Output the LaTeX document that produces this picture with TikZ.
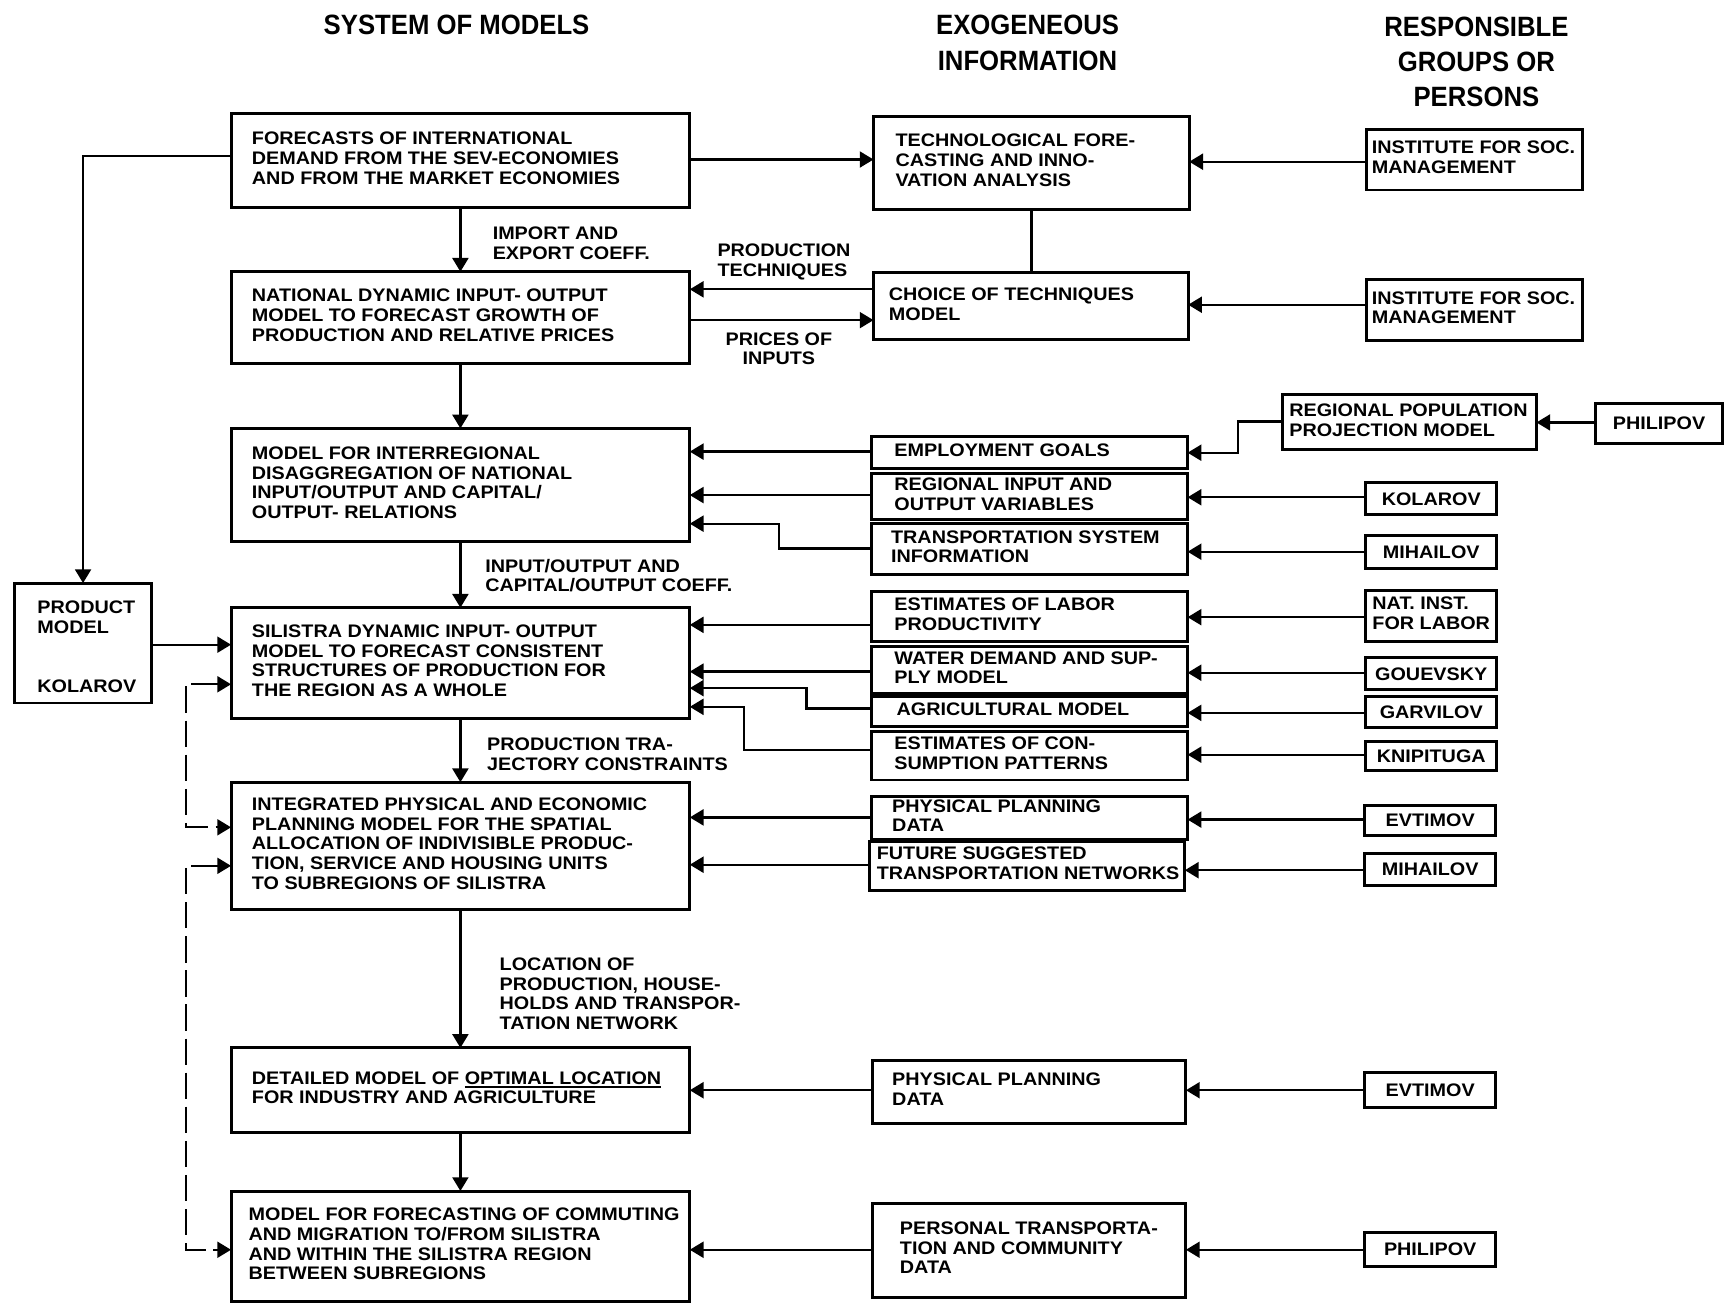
\documentclass[tikz,border=0pt]{standalone}
\usepackage{fontspec}
\usetikzlibrary{arrows.meta}
\newfontfamily\boxfont[FakeStretch=1.09]{Liberation Sans}
\newfontfamily\headfont[FakeStretch=0.92]{Liberation Sans}
% left-aligned block of lines, set in a box of fixed width
\newcommand\boxlines[2]{\makebox[#1pt][l]{\begin{tabular}{@{}l@{}}#2\end{tabular}}}
% blocks whose reference point is the first baseline
\newcommand\toplines[1]{\begin{tabular}[t]{@{}l@{}}#1\end{tabular}}
\newcommand\topcenter[1]{\begin{tabular}[t]{@{}c@{}}#1\end{tabular}}
% heavy underline
\newcommand\undl[1]{\setbox0\hbox{#1}\rlap{\rule[-3.2pt]{\wd0}{1.6pt}}\box0}
\begin{document}
\begin{tikzpicture}[x=1pt,y=-1pt,
  txt/.style={font=\boxfont\bfseries\fontsize{16.5}{18}\selectfont},
  mbox/.style={txt, draw, line width=2.7pt, inner sep=0pt, outer sep=0pt},
  box/.style 2 args={mbox, minimum width=#1pt, minimum height=#2pt},
  lab/.style={txt, inner sep=0pt, anchor=base west},
  head/.style={font=\headfont\bfseries\fontsize{25.4}{32}\selectfont, inner sep=0pt, anchor=base},
  conn/.style={line width=2.1pt},
  arr/.style={conn, -{Triangle[length=12.5pt,width=14.5pt]}},
  dsh/.style={conn, dash pattern=on 24pt off 7pt,
    {Triangle[length=12.5pt,width=14.5pt]}-{Triangle[length=12.5pt,width=14.5pt]}},
]
\useasboundingbox (0,0) rectangle (1568,1186);

% column headings
\node[head] (hsys) at (415,31.8) {SYSTEM OF MODELS};
\node[head] (hexo) at (934,31.8) {\topcenter{EXOGENEOUS\\INFORMATION}};
\node[head] (hresp) at (1342,33) {\topcenter{RESPONSIBLE\\GROUPS OR\\PERSONS}};

% system of models
\node[box={417}{85.5}] (f1) at (418.5,145.75) {\boxlines{379}{FORECASTS OF INTERNATIONAL\\DEMAND FROM THE SEV-ECONOMIES\\AND FROM THE MARKET ECONOMIES}};
\node[box={417}{83}] (f2) at (418.5,288.5) {\boxlines{379}{NATIONAL DYNAMIC INPUT- OUTPUT\\MODEL TO FORECAST GROWTH OF\\PRODUCTION AND RELATIVE PRICES}};
\node[box={417}{103}] (f3) at (418.5,440.9) {\boxlines{379}{MODEL FOR INTERREGIONAL\\DISAGGREGATION OF NATIONAL\\INPUT/OUTPUT AND CAPITAL/\\OUTPUT- RELATIONS}};
\node[box={417}{100.6}] (f4) at (418.5,602.7) {\boxlines{379}{SILISTRA DYNAMIC INPUT- OUTPUT\\MODEL TO FORECAST CONSISTENT\\STRUCTURES OF PRODUCTION FOR\\THE REGION AS A WHOLE}};
\node[box={417}{115.7}] (f5) at (418.5,768.85) {\boxlines{379}{INTEGRATED PHYSICAL AND ECONOMIC\\PLANNING MODEL FOR THE SPATIAL\\ALLOCATION OF INDIVISIBLE PRODUC-\\TION, SERVICE AND HOUSING UNITS\\TO SUBREGIONS OF SILISTRA}};
\node[box={417}{76.5}] (f6) at (418.5,990.75) {\boxlines{379}{DETAILED MODEL OF \undl{OPTIMAL LOCATION}\\FOR INDUSTRY AND AGRICULTURE}};
\node[box={417}{100.4}] (f7) at (418.5,1132.8) {\boxlines{385}{MODEL FOR FORECASTING OF COMMUTING\\AND MIGRATION TO/FROM SILISTRA\\AND WITHIN THE SILISTRA REGION\\BETWEEN SUBREGIONS}};

\node[mbox, minimum width=125pt, text height=27.6pt, text depth=81.4pt, anchor=north west] (prod) at (13,530)
  {\makebox[83pt][l]{\toplines{PRODUCT\\MODEL\\ \\ \\KOLAROV}}};

% exogeneous information
\node[box={287}{84}] (t1) at (937.5,148) {\boxlines{247}{TECHNOLOGICAL FORE-\\CASTING AND INNO-\\VATION ANALYSIS}};
\node[box={286}{61}] (t2) at (937,278.5) {\boxlines{258}{CHOICE OF TECHNIQUES\\MODEL}};
\node[box={287.5}{28.6}] (e1) at (935.75,411.3) {\boxlines{245.5}{EMPLOYMENT GOALS}};
\node[box={287.5}{42}] (e2) at (935.75,451) {\boxlines{245.5}{REGIONAL INPUT AND\\OUTPUT VARIABLES}};
\node[box={287.5}{47}] (e3) at (935.75,499) {\boxlines{251.5}{TRANSPORTATION SYSTEM\\INFORMATION}};
\node[box={287.5}{45}] (e4) at (935.75,560.5) {\boxlines{245.5}{ESTIMATES OF LABOR\\PRODUCTIVITY}};
\node[box={287.5}{42}] (e5) at (935.75,609) {\boxlines{245.5}{WATER DEMAND AND SUP-\\PLY MODEL}};
\node[box={287.5}{27.6}] (e6) at (935.75,646.8) {\boxlines{241.5}{AGRICULTURAL MODEL}};
\node[box={287.5}{44}] (e7) at (935.75,687) {\boxlines{245.5}{ESTIMATES OF CON-\\SUMPTION PATTERNS}};
\node[box={287.5}{39}] (e8) at (935.75,743.5) {\boxlines{249.5}{PHYSICAL PLANNING\\DATA}};
\node[box={287}{44}] (e9) at (933.5,787) {\boxlines{273}{FUTURE SUGGESTED\\TRANSPORTATION NETWORKS}};
\node[box={285}{57}] (e10) at (935.5,992.5) {\boxlines{249}{PHYSICAL PLANNING\\DATA}};
\node[box={285}{85.4}] (e11) at (935.5,1136.3) {\boxlines{235}{PERSONAL TRANSPORTA-\\TION AND COMMUNITY\\DATA}};

% responsible groups or persons
\node[box={196.7}{54.7}] (r1) at (1340.35,145.35) {\boxlines{186.7}{INSTITUTE FOR SOC.\\MANAGEMENT}};
\node[box={196.7}{55.7}] (r2) at (1340.35,281.85) {\boxlines{186.7}{INSTITUTE FOR SOC.\\MANAGEMENT}};
\node[box={230.6}{50}] (rp) at (1281.3,384) {\boxlines{218.6}{REGIONAL POPULATION\\PROJECTION MODEL}};
\node[box={116}{36.5}] (ph1) at (1508,384.75) {PHILIPOV};
\node[box={119}{29.2}] (k) at (1301,453.4) {KOLAROV};
\node[box={119}{30}] (m) at (1301,502) {MIHAILOV};
\node[box={119}{46.4}] (n) at (1301,559.8) {\boxlines{107}{NAT. INST.\\FOR LABOR}};
\node[box={119}{29}] (g) at (1301,612.5) {GOUEVSKY};
\node[box={119}{28}] (ga) at (1301,647) {GARVILOV};
\node[box={119}{26}] (kn) at (1301,687) {KNIPITUGA};
\node[box={119}{28}] (ev) at (1300,745.75) {EVTIMOV};
\node[box={119}{28.5}] (mi) at (1300,790.25) {MIHAILOV};
\node[box={119}{32}] (ev2) at (1300,991) {EVTIMOV};
\node[box={119}{31}] (ph2) at (1300,1135.5) {PHILIPOV};

% flow labels
\node[lab] (l1) at (447.7,217.5) {\toplines{IMPORT AND\\EXPORT COEFF.}};
\node[lab] (l2) at (652,233.5) {\toplines{PRODUCTION\\TECHNIQUES}};
\node[txt, inner sep=0pt, anchor=base] (l3) at (708,313.7) {\topcenter{PRICES OF\\INPUTS}};
\node[lab] (l4) at (441,520) {\toplines{INPUT/OUTPUT AND\\CAPITAL/OUTPUT COEFF.}};
\node[lab] (l5) at (442.6,682) {\toplines{PRODUCTION TRA-\\JECTORY CONSTRAINTS}};
\node[lab] (l6) at (454,882) {\toplines{LOCATION OF\\PRODUCTION, HOUSE-\\HOLDS AND TRANSPOR-\\TATION NETWORK}};

% main chain
\draw[arr] (f1.south) -- (f2.north);
\draw[arr] (f2.south) -- (f3.north);
\draw[arr] (f3.south) -- (f4.north);
\draw[arr] (f4.south) -- (f5.north);
\draw[arr] (f5.south) -- (f6.north);
\draw[arr] (f6.south) -- (f7.north);

% top rows
\draw[arr] (f1.east |- 0,145) -- (t1.west |- 0,145);
\draw[conn] (t1.south) -- (t1.south |- t2.north);
\draw[arr] (t2.west |- 0,263) -- (f2.east |- 0,263);
\draw[arr] (f2.east |- 0,291) -- (t2.west |- 0,291);
\draw[arr] (r1.west |- 0,147) -- (t1.east |- 0,147);
\draw[arr] (r2.west |- 0,277) -- (t2.east |- 0,277);

% inputs to the interregional model
\draw[arr] (e1.west |- 0,410.5) -- (f3.east |- 0,410.5);
\draw[arr] (e2.west |- 0,450) -- (f3.east |- 0,450);
\draw[arr] (e3.west |- 0,498.5) -- (708,498.5) |- (f3.east |- 0,476);
\draw[arr] (rp.west |- 0,383) -- (1125,383) |- (e1.east |- 0,411.5);
\draw[arr] (ph1.west |- 0,384) -- (rp.east |- 0,384);
\draw[arr] (k.west |- 0,452) -- (e2.east |- 0,452);
\draw[arr] (m.west |- 0,501.5) -- (e3.east |- 0,501.5);

% inputs to the Silistra model
\draw[arr] (e4.west |- 0,568) -- (f4.east |- 0,568);
\draw[arr] (e5.west |- 0,610.5) -- (f4.east |- 0,610.5);
\draw[arr] (e6.west |- 0,644) -- (733,644) |- (f4.east |- 0,625.5);
\draw[arr] (e7.west |- 0,682) -- (676,682) |- (f4.east |- 0,642.5);
\draw[arr] (n.west |- 0,561) -- (e4.east |- 0,561);
\draw[arr] (g.west |- 0,611.5) -- (e5.east |- 0,611.5);
\draw[arr] (ga.west |- 0,648) -- (e6.east |- 0,648);
\draw[arr] (kn.west |- 0,686) -- (e7.east |- 0,686);
\draw[arr] (f1.west |- 0,142) -| (prod.north);
\draw[arr] (prod.east |- 0,586) -- (f4.west |- 0,586);

% inputs to the lower models
\draw[arr] (e8.west |- 0,743) -- (f5.east |- 0,743);
\draw[arr] (e9.west |- 0,786) -- (f5.east |- 0,786);
\draw[arr] (ev.west |- 0,745) -- (e8.east |- 0,745);
\draw[arr] (mi.west |- 0,791) -- (e9.east |- 0,791);
\draw[arr] (e10.west |- 0,991) -- (f6.east |- 0,991);
\draw[arr] (ev2.west |- 0,991) -- (e10.east |- 0,991);
\draw[arr] (e11.west |- 0,1136) -- (f7.east |- 0,1136);
\draw[arr] (ph2.west |- 0,1136) -- (e11.east |- 0,1136);

% feedback links
\draw[dsh] (f4.west |- 0,622) -- (169,622) -- (169,752) -- (f5.west |- 0,752);
\draw[dsh] (f5.west |- 0,787) -- (169,787) -- (169,1136) -- (f7.west |- 0,1136);
\end{tikzpicture}
\end{document}
